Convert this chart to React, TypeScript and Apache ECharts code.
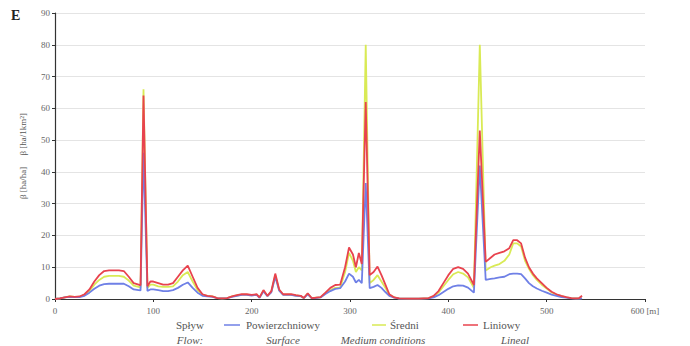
import React, { useEffect, useRef } from "react";
import * as echarts from "echarts";

const distance = [0, 5, 10, 15, 20, 25, 30, 35, 40, 45, 50, 55, 60, 65, 70, 75, 80, 85, 87, 90, 94, 97, 100, 105, 110, 115, 120, 125, 130, 135, 140, 145, 150, 155, 160, 165, 170, 175, 180, 185, 190, 195, 200, 205, 208, 212, 216, 220, 224, 228, 232, 236, 240, 245, 250, 253, 257, 261, 265, 270, 275, 280, 285, 290, 295, 299, 303, 306, 309, 312, 316, 320, 324, 328, 332, 336, 340, 345, 350, 360, 370, 380, 385, 390, 395, 400, 405, 410, 415, 420, 426, 432, 438, 443, 447, 452, 457, 462, 466, 470, 474, 478, 482, 486, 490, 495, 500, 505, 510, 515, 520, 525, 530, 533, 536];

const lineal = [0, 0.2, 0.5, 0.8, 0.7, 0.8, 1.5, 3, 5.5, 7.5, 8.8, 9, 9, 9, 8.8, 7, 5, 4.5, 4.3, 64, 4, 5.5, 5.5, 5, 4.5, 4.5, 5, 7, 9, 10.5, 7, 3.5, 1.5, 1, 0.8, 0.3, 0.2, 0.3, 0.8, 1.2, 1.5, 1.5, 1.3, 1.5, 0.5, 2.8, 1, 2.5, 8, 3, 1.5, 1.5, 1.5, 1.2, 1, 0.3, 1.8, 0.3, 0.4, 0.6, 2, 3.5, 4.4, 4.5, 10, 16.2, 14, 10, 14.5, 11, 62, 7.5, 8.5, 10.2, 7.5, 4.5, 1.5, 0.5, 0.2, 0.1, 0.1, 0.3, 1, 2.5, 5, 7.5, 9.5, 10, 9.5, 8, 4.4, 53, 11.7, 13, 14, 14.5, 15, 16, 18.5, 18.5, 17.5, 13, 10, 8, 6.5, 5, 3.5, 2.3, 1.5, 1, 0.6, 0.3, 0.2, 0.3, 1];

const medium = [0, 0.2, 0.5, 0.8, 0.7, 0.7, 1.3, 2.5, 4.5, 6, 7, 7.3, 7.3, 7.3, 7, 5.8, 4.2, 3.8, 3.6, 66, 3.5, 4.5, 4.5, 4, 3.8, 3.8, 4, 5.5, 7.5, 8.5, 5.5, 2.8, 1.3, 1, 0.8, 0.3, 0.2, 0.3, 0.8, 1.1, 1.4, 1.4, 1.2, 1.4, 0.5, 2.6, 1, 2.3, 7.5, 2.8, 1.4, 1.4, 1.4, 1.1, 0.9, 0.3, 1.7, 0.3, 0.4, 0.5, 1.8, 2.8, 3.5, 3.6, 8.5, 14.5, 12, 8.5, 10, 9, 80, 5, 6, 7.5, 5.5, 3.5, 1.3, 0.5, 0.2, 0.1, 0.1, 0.3, 0.8, 2, 4, 6, 7.8, 8.5, 8, 6.8, 3.5, 80, 9, 10, 10.5, 11, 12, 14, 17.5, 17.5, 16.5, 12, 9.5, 7.5, 6, 4.5, 3.3, 2.1, 1.4, 0.9, 0.5, 0.3, 0.2, 0.2, 0.3];

const surface = [0, 0.2, 0.5, 0.7, 0.6, 0.6, 1, 2, 3.2, 4.2, 4.7, 4.8, 4.8, 4.8, 4.8, 4, 3, 2.8, 2.7, 46, 2.5, 3, 3, 2.8, 2.5, 2.5, 2.8, 3.5, 4.5, 5.2, 3.5, 2, 1, 0.8, 0.7, 0.3, 0.2, 0.3, 0.7, 1, 1.3, 1.3, 1.1, 1.3, 0.4, 2.4, 0.9, 2.1, 7, 2.6, 1.3, 1.3, 1.3, 1, 0.9, 0.3, 1.5, 0.3, 0.3, 0.5, 1.6, 2.5, 3.2, 3.4, 5.5, 8, 7, 5.2, 6, 5, 36.5, 3.4, 3.8, 4.4, 3.5, 2.2, 1, 0.4, 0.1, 0.1, 0.1, 0.2, 0.5, 1.2, 2.2, 3.2, 4, 4.3, 4.2, 3.6, 2, 42, 6, 6.3, 6.5, 6.8, 7, 7.8, 8, 8, 7.8, 6.5, 5, 4, 3.3, 2.6, 2, 1.4, 1, 0.6, 0.4, 0.2, 0.1, 0.1, 0.2];

const xTicks = ["0", "100", "200", "300", "400", "500", "600 [m]"];
const yTitle = "β [ha/ha]     β [ha/1km²]";
const legendNames = ["Powierzchniowy", "Średni", "Liniowy"];
const legendEnglish = ["Surface", "Medium conditions", "Lineal"];
const colors = ["#6f80e6", "#d9ea55", "#e8434e"];

const serif = "serif";

export default function App() {
  const ref = useRef<HTMLDivElement>(null);
  useEffect(() => {
    if (!ref.current) return;
    document.body.style.margin = "0";
    const chart = echarts.init(ref.current, undefined, { renderer: "svg" });
    const pairs = (vals: number[]) => distance.map((d, i) => [d, vals[i]]);
    const mk = (name: string, vals: number[], color: string, z: number) => ({
      name,
      type: "line",
      data: pairs(vals),
      showSymbol: false,
      symbol: "none",
      z,
      lineStyle: { color, width: 1.8 },
      itemStyle: { color },
    });
    const legendLine = (x1: number, x2: number, color: string) => ({
      type: "line",
      shape: { x1, y1: 325, x2, y2: 325 },
      style: { stroke: color, lineWidth: 1.5 },
    });
    const txt = (x: number, y: number, text: string, align: string, italic = false, size = 11) => ({
      type: "text",
      x,
      y,
      style: {
        text,
        fill: "#555",
        fontFamily: serif,
        fontSize: size,
        fontStyle: italic ? "italic" : "normal",
        align,
        verticalAlign: "middle",
      },
    });
    chart.setOption({
      animation: false,
      backgroundColor: "#fff",
      textStyle: { fontFamily: serif },
      grid: { left: 55, right: 45, top: 13, bottom: 47 },
      xAxis: {
        type: "value",
        min: 0,
        max: 600,
        interval: 100,
        axisLine: { lineStyle: { color: "#333", width: 1.2 } },
        axisTick: { show: true, length: 3, lineStyle: { color: "#333" } },
        axisLabel: {
          color: "#666",
          fontFamily: serif,
          fontSize: 9,
          margin: 7,
          formatter: (v: number) => xTicks[Math.round(v / 100)] ?? "",
        },
        splitLine: { show: false },
      },
      yAxis: {
        type: "value",
        min: 0,
        max: 90,
        interval: 10,
        name: yTitle,
        nameLocation: "middle",
        nameGap: 28,
        nameTextStyle: { color: "#555", fontFamily: serif, fontSize: 9 },
        axisLine: { show: true, lineStyle: { color: "#333", width: 1.2 } },
        axisTick: { show: true, length: 3, lineStyle: { color: "#333" } },
        axisLabel: { color: "#666", fontFamily: serif, fontSize: 9, margin: 5 },
        splitLine: { show: true, lineStyle: { color: "#e4e4e4", width: 1 } },
      },
      series: [
        mk(legendNames[1], medium, colors[1], 2),
        mk(legendNames[0], surface, colors[0], 3),
        mk(legendNames[2], lineal, colors[2], 4),
      ],
      graphic: [
        {
          type: "text",
          x: 11,
          y: 15,
          style: {
            text: "E",
            fill: "#222",
            fontFamily: serif,
            fontSize: 14,
            fontWeight: "bold",
            verticalAlign: "middle",
          },
        },
        txt(190, 325, "Spływ", "center"),
        legendLine(224, 240, colors[0]),
        txt(246, 325, legendNames[0], "left"),
        legendLine(372, 386, colors[1]),
        txt(390, 325, legendNames[1], "left"),
        legendLine(463, 478, colors[2]),
        txt(483, 325, legendNames[2], "left"),
        txt(190, 340, "Flow:", "center", true),
        txt(283, 340, legendEnglish[0], "center", true),
        txt(383, 340, legendEnglish[1], "center", true),
        txt(515, 340, legendEnglish[2], "center", true),
      ],
    });
    return () => chart.dispose();
  }, []);
  return <div ref={ref} style={{ width: 690, height: 346 }} />;
}
